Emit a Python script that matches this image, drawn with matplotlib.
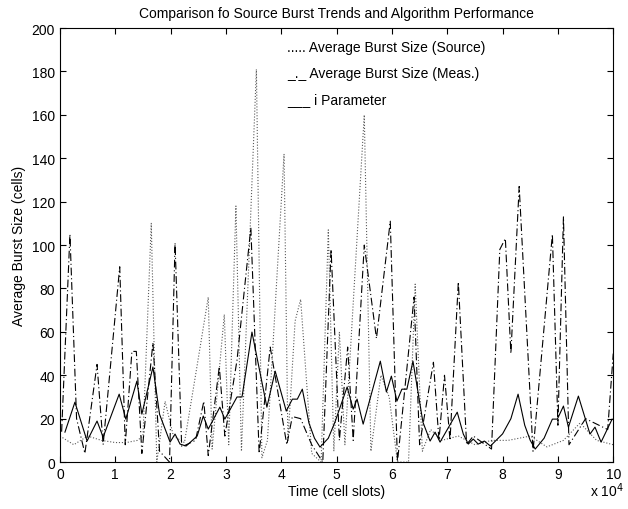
import matplotlib.pyplot as plt

plt.rcParams['font.family'] = ['Liberation Sans', 'DejaVu Sans']

# time axis in units of 1e4 cell slots
src_x = [0.0, 0.25, 0.5, 0.75, 1.0, 1.2, 1.4, 1.5, 1.65, 1.75, 1.9, 2.05, 2.25, 2.45, 2.68, 2.75,
         2.97, 3.05, 3.18, 3.28, 3.55, 3.65, 3.75, 4.05, 4.12, 4.25, 4.35, 4.55, 4.72, 4.85,
         4.95, 5.05, 5.15, 5.5, 5.62, 5.8, 5.95, 6.1, 6.3, 6.42, 6.55, 6.7, 6.9, 7.2, 7.5,
         7.8, 8.1, 8.5, 8.8, 9.1, 9.4, 9.7, 10.0]
src_y = [12, 8, 12, 10, 9, 9, 10, 12, 110, 0, 28, 12, 9, 40, 76, 6,
         68, 8, 118, 5, 181, 2, 10, 142, 10, 65, 75, 4, 0, 107,
         5, 60, 8, 160, 5, 40, 30, 0, 0, 82, 5, 15, 10, 12, 8,
         10, 10, 12, 7, 10, 18, 10, 8]

meas_x = [0.03, 0.18, 0.3, 0.45, 0.67, 0.78, 1.08, 1.18, 1.3, 1.38, 1.48, 1.68, 1.8, 1.98, 2.08,
          2.2, 2.45, 2.6, 2.68, 2.88, 2.98, 3.2, 3.45, 3.6, 3.8, 4.1, 4.2, 4.35, 4.55, 4.75,
          4.9, 5.05, 5.2, 5.3, 5.5, 5.72, 5.97, 6.1, 6.4, 6.5, 6.75, 6.85, 6.95, 7.05, 7.2,
          7.35, 7.47, 7.8, 7.95, 8.05, 8.15, 8.3, 8.55, 8.9, 9.0, 9.1, 9.2, 9.5, 9.9, 10.0]
meas_y = [14, 105, 20, 4, 45, 8, 90, 8, 51, 51, 4, 55, 5, 0, 101,
          7, 10, 28, 3, 44, 12, 47, 108, 4, 53, 8, 21, 20, 8, 0,
          98, 10, 53, 10, 100, 57, 111, 0, 76, 8, 46, 10, 40, 10, 83,
          8, 12, 6, 98, 103, 50, 127, 5, 105, 17, 113, 8, 20, 15, 50]

ipar_x = [0.09, 0.27, 0.49, 0.67, 0.78, 1.07, 1.19, 1.39, 1.48, 1.68, 1.8, 1.99, 2.08, 2.17, 2.28,
          2.48, 2.59, 2.68, 2.89, 2.98, 3.20, 3.29, 3.47, 3.74, 3.89, 4.09, 4.20, 4.29, 4.38,
          4.5, 4.6, 4.70, 4.85, 4.97, 5.19, 5.30, 5.37, 5.48, 5.79, 5.90, 5.99, 6.09, 6.18,
          6.27, 6.38, 6.56, 6.69, 6.78, 6.87, 7.18, 7.29, 7.38, 7.47, 7.56, 7.67, 7.78, 8.0,
          8.15, 8.28, 8.4, 8.5, 8.59, 8.75, 8.90, 8.99, 9.10, 9.19, 9.37, 9.58, 9.67, 9.78, 9.98]
ipar_y = [13.8, 27.6, 9.7, 18.9, 11.5, 31.3, 19.8, 37.3, 22.1, 43.8, 22.0, 9.2, 12.9, 8.3, 7.4,
          12.0, 21.2, 15.2, 25.3, 19.8, 30.0, 30.0, 59.9, 25.3, 41.9, 23.5, 29.0, 29.0, 33.6,
          18.0, 11.0, 6.9, 11.0, 18.4, 34.6, 24.4, 29.0, 17.5, 46.5, 32.3, 39.6, 28.1, 33.6,
          33.6, 46.5, 18.4, 9.7, 13.8, 9.2, 23.0, 12.9, 8.3, 10.6, 8.3, 9.7, 7.4, 13.0,
          20.0, 31.3, 17.0, 10.0, 6.0, 11.0, 19.8, 19.8, 25.8, 16.1, 30.4, 12.9, 16.1, 9.2, 19.8]

fig = plt.figure(figsize=(6.28, 5.10), dpi=100)
ax = fig.add_axes([0.0955, 0.092, 0.881, 0.851])

ax.plot(src_x, src_y, color='0.35', linestyle=':', linewidth=0.8)
ax.plot(meas_x, meas_y, color='black', linestyle='-.', linewidth=0.8, dashes=(7, 2.5, 1, 2.5))
ax.plot(ipar_x, ipar_y, color='black', linestyle='-', linewidth=0.8)

ax.set_xlim(0, 10)
ax.set_ylim(0, 200)
ax.set_xticks(range(0, 11))
ax.set_yticks(range(0, 201, 20))
ax.tick_params(direction='in', top=True, right=True, labelsize=10, length=4)

# legend written as plain text, like the original
ax.text(4.1, 191.5, '..... Average Burst Size (Source)', fontsize=10, va='center')
ax.text(4.1, 179.5, '_._ Average Burst Size (Meas.)', fontsize=10, va='center')
ax.text(4.1, 167.5, '___ i Parameter', fontsize=10, va='center')

ax.set_xlabel('Time (cell slots)', fontsize=10, labelpad=2)
ax.set_ylabel('Average Burst Size (cells)', fontsize=10)
ax.set_title('Comparison fo Source Burst Trends and Algorithm Performance', fontsize=10, pad=8)
fig.text(0.94, 0.025, r'x 10$^4$', fontsize=10, ha='left')

plt.savefig('out.png', dpi=100)
